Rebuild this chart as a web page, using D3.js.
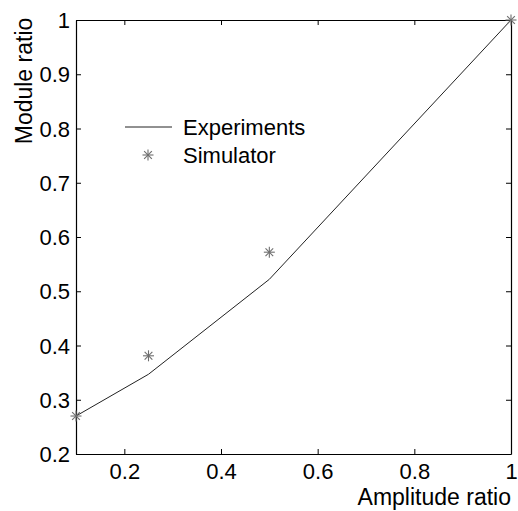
<!DOCTYPE html>
<html>
<head>
<meta charset="utf-8">
<script src="https://cdn.jsdelivr.net/npm/d3@7"></script>
<style>
  html, body { margin: 0; padding: 0; background: #fff; }
  svg { display: block; }
  text { font-family: "Liberation Sans", Arial, sans-serif; fill: #000; }
</style>
</head>
<body>
<div id="chart"></div>
<script>
// Data
const expX = [0.1, 0.25, 0.5, 1];
const expY = [0.27, 0.347, 0.522, 1];
const simX = [0.1, 0.25, 0.5, 1];
const simY = [0.27, 0.381, 0.572, 1];
const xTicks = [0.2, 0.4, 0.6, 0.8, 1];
const yTicks = [0.2, 0.3, 0.4, 0.5, 0.6, 0.7, 0.8, 0.9, 1];

const width = 518, height = 511;
const margin = { top: 20, right: 7, bottom: 57, left: 76 };
const fontSize = 22;
const labelSize = 23;

const svg = d3.select('#chart')
    .append('svg')
    .attr('width', width)
    .attr('height', height);

const x = d3.scaleLinear().domain([0.1, 1]).range([margin.left, width - margin.right]);
const y = d3.scaleLinear().domain([0.2, 1]).range([height - margin.bottom, margin.top]);

const fmt = d => String(+d.toFixed(1));

// Axes (box with inward ticks on all sides)
const tick = 5;
const axes = [
    { ax: d3.axisBottom(x).tickValues(xTicks).tickSizeInner(-tick).tickSizeOuter(0).tickFormat(fmt), t: `translate(0,${y(0.2)})`, side: 'bottom' },
    { ax: d3.axisTop(x).tickValues(xTicks).tickSizeInner(-tick).tickSizeOuter(0), t: `translate(0,${y(1)})`, side: 'top' },
    { ax: d3.axisLeft(y).tickValues(yTicks).tickSizeInner(-tick).tickSizeOuter(0).tickFormat(fmt), t: `translate(${x(0.1)},0)`, side: 'left' },
    { ax: d3.axisRight(y).tickValues(yTicks).tickSizeInner(-tick).tickSizeOuter(0), t: `translate(${x(1)},0)`, side: 'right' }
];

axes.forEach(a => {
    const g = svg.append('g').attr('transform', a.t).call(a.ax);
    g.select('.domain').attr('stroke', '#000').attr('stroke-width', 1.2);
    g.selectAll('.tick line').attr('stroke', '#000');
    g.selectAll('.tick text')
        .style('font-size', fontSize + 'px')
        .style('font-family', '"Liberation Sans", Arial, sans-serif')
        .attr('fill', '#000');
    if (a.side === 'top' || a.side === 'right') g.selectAll('.tick text').remove();
    // push tick labels away from the axis
    if (a.side === 'bottom') g.selectAll('.tick text').attr('y', 9).attr('dy', '0.71em');
    if (a.side === 'left') g.selectAll('.tick text').attr('x', -6).attr('dy', '0.35em');
});

// Experiments line
const line = d3.line().x(d => x(d[0])).y(d => y(d[1]));
svg.append('path')
    .datum(d3.zip(expX, expY))
    .attr('d', line)
    .attr('fill', 'none')
    .attr('stroke', '#222')
    .attr('stroke-width', 1);

// star marker
function star(g, cx, cy, r) {
    const d = r * 0.7;
    const s = g.append('g').attr('transform', `translate(${cx},${cy})`)
        .attr('stroke', '#6e6e6e').attr('stroke-width', 1.1);
    s.append('line').attr('x1', -r).attr('x2', r).attr('y1', 0).attr('y2', 0);
    s.append('line').attr('x1', 0).attr('x2', 0).attr('y1', -r).attr('y2', r);
    s.append('line').attr('x1', -d).attr('x2', d).attr('y1', -d).attr('y2', d);
    s.append('line').attr('x1', -d).attr('x2', d).attr('y1', d).attr('y2', -d);
}

const marks = svg.append('g');
d3.zip(simX, simY).forEach(p => star(marks, x(p[0]), y(p[1]), 5.5));

// Legend
const lg = svg.append('g');
lg.append('line').attr('x1', 125).attr('x2', 172).attr('y1', 127).attr('y2', 127)
    .attr('stroke', '#222').attr('stroke-width', 1);
star(lg, 148, 155, 5.5);
lg.append('text').attr('x', 183).attr('y', 135).style('font-size', '22px').text('Experiments');
lg.append('text').attr('x', 183).attr('y', 163).style('font-size', '22px').text('Simulator');

// Axis titles
svg.append('text')
    .attr('x', x(1))
    .attr('y', 505)
    .attr('text-anchor', 'end')
    .style('font-size', labelSize + 'px')
    .text('Amplitude ratio');

svg.append('text')
    .attr('transform', 'translate(32,81) rotate(-90)')
    .attr('text-anchor', 'middle')
    .style('font-size', labelSize + 'px')
    .text('Module ratio');
</script>
</body>
</html>
